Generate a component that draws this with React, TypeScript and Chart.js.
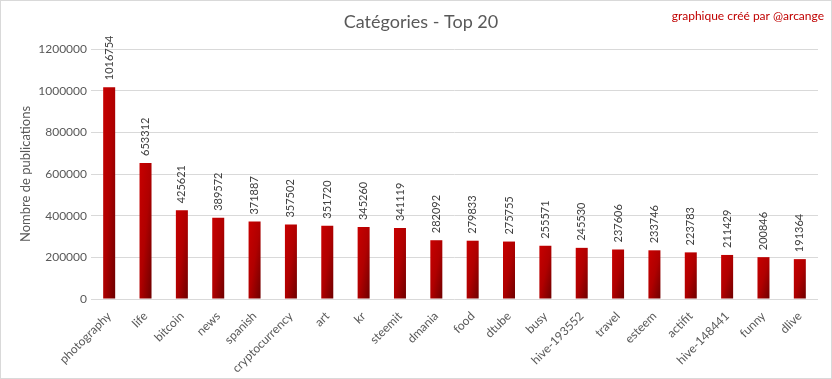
import React, { useEffect, useRef } from "react";
import { Chart, registerables } from "chart.js";

Chart.register(...registerables);

const categories = [
  "photography", "life", "bitcoin", "news", "spanish", "cryptocurrency", "art", "kr",
  "steemit", "dmania", "food", "dtube", "busy", "hive-193552", "travel", "esteem",
  "actifit", "hive-148441", "funny", "dlive",
];
const values = [
  1016754, 653312, 425621, 389572, 371887, 357502, 351720, 345260, 341119, 282092,
  279833, 275755, 255571, 245530, 237606, 233746, 223783, 211429, 200846, 191364,
];
const yTicks = [0, 200000, 400000, 600000, 800000, 1000000, 1200000];
const titleText = "Catégories - Top 20";
const creditText = "graphique créé par @arcange";
const yTitle = "Nombre de publications";

const FONT = "Lato, 'Liberation Sans', sans-serif";

function barGradient(ctx: any) {
  const chart = ctx.chart;
  const xs = chart.scales?.x;
  const ys = chart.scales?.y;
  if (!xs || !ys || ctx.raw == null) return "#b00000";
  const w = 12;
  const cx = xs.getPixelForValue(ctx.dataIndex);
  const top = ys.getPixelForValue(ctx.raw);
  const base = ys.getPixelForValue(0);
  if (![cx, top, base].every((v) => Number.isFinite(v))) return "#b00000";
  const h = Math.max(1, base - top);
  const left = cx - w / 2;
  const s = 2 / (1 / (w * w) + 1 / (h * h));
  const x1 = left + s / w;
  const y1 = top + s / h;
  if (!Number.isFinite(x1) || !Number.isFinite(y1)) return "#b00000";
  const g = chart.ctx.createLinearGradient(left, top, x1, y1);
  g.addColorStop(0, "#c80000");
  g.addColorStop(0.5, "#b00000");
  g.addColorStop(1, "#6e0000");
  return g;
}

const decorPlugin = {
  id: "decor",
  afterDraw(chart: any) {
    const c = chart.ctx;
    c.save();
    c.strokeStyle = "#d9d9d9";
    c.lineWidth = 1;
    c.strokeRect(0.5, 0.5, chart.width - 1, chart.height - 1);
    c.fillStyle = "#595959";
    c.font = `18px ${FONT}`;
    c.textAlign = "center";
    c.textBaseline = "middle";
    c.fillText(titleText, 421, 22);
    c.fillStyle = "#c00000";
    c.font = `12px ${FONT}`;
    c.textAlign = "right";
    c.fillText(creditText, 824, 16);
    const meta = chart.getDatasetMeta(0);
    c.fillStyle = "#404040";
    c.font = `11px ${FONT}`;
    c.textAlign = "left";
    c.textBaseline = "middle";
    meta.data.forEach((el: any, i: number) => {
      c.save();
      c.translate(el.x, el.y - 7);
      c.rotate(-Math.PI / 2);
      c.fillText(String(values[i]), 0, 0);
      c.restore();
    });
    c.restore();
  },
};

export default function App() {
  const ref = useRef<HTMLCanvasElement>(null);
  useEffect(() => {
    document.body.style.margin = "0";
    const chart = new Chart(ref.current!, {
      type: "bar",
      data: {
        labels: categories,
        datasets: [
          {
            data: values,
            backgroundColor: barGradient as any,
            barPercentage: 0.66,
            categoryPercentage: 0.5,
          },
        ],
      },
      options: {
        animation: false,
        responsive: false,
        devicePixelRatio: 1,
        layout: { padding: { top: 49, right: 14, left: 14, bottom: 0 } },
        plugins: {
          legend: { display: false },
          tooltip: { enabled: false },
          title: { display: false },
        },
        scales: {
          x: {
            grid: { display: false },
            border: { display: false },
            ticks: {
              color: "#595959",
              font: { family: FONT, size: 12 },
              maxRotation: 45,
              minRotation: 45,
              autoSkip: false,
              padding: 2,
            },
            afterFit(scale: any) {
              scale.height = 80;
            },
          },
          y: {
            min: 0,
            max: 1200000,
            afterBuildTicks(scale: any) {
              scale.ticks = yTicks.map((v) => ({ value: v }));
            },
            grid: { color: "#d9d9d9", drawTicks: false },
            border: { display: false },
            ticks: {
              color: "#595959",
              font: { family: FONT, size: 12 },
              padding: 4,
              callback: (v: any) => String(v),
            },
            title: {
              display: true,
              text: yTitle,
              color: "#595959",
              font: { family: FONT, size: 13 },
              padding: { top: 4, bottom: 4 },
            },
            afterFit(scale: any) {
              scale.width = 77;
            },
          },
        },
      },
      plugins: [decorPlugin],
    });
    return () => chart.destroy();
  }, []);
  return <canvas ref={ref} width={832} height={379} style={{ display: "block" }} />;
}
